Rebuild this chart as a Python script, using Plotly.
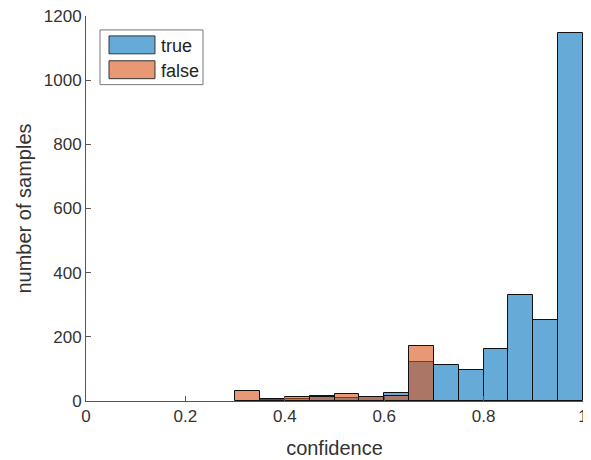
import plotly.graph_objects as go

bin_centers = [0.325, 0.375, 0.425, 0.475, 0.525, 0.575, 0.625, 0.675,
               0.725, 0.775, 0.825, 0.875, 0.925, 0.975]
true_counts = [0, 4, 6, 15, 8, 14, 26, 121, 112, 96, 163, 331, 251, 1147]
false_counts = [31, 5, 13, 12, 23, 11, 16, 170, 0, 0, 0, 0, 0, 0]
bin_width = 0.05
x_ticks = [0, 0.2, 0.4, 0.6, 0.8, 1]
x_tick_labels = ["0", "0.2", "0.4", "0.6", "0.8", "1"]
y_ticks = [0, 200, 400, 600, 800, 1000, 1200]

BLUE = "rgba(0,114,189,0.6)"
ORANGE = "rgba(217,83,25,0.6)"
FONT = "Liberation Sans, Arial, sans-serif"
TXT = "#333333"

def nz(xs, ys):
    px, py = [], []
    for a, b in zip(xs, ys):
        if b > 0:
            px.append(a)
            py.append(b)
    return px, py

fig = go.Figure()
tx, ty = nz(bin_centers, true_counts)
fx, fy = nz(bin_centers, false_counts)
fig.add_trace(go.Bar(x=tx, y=ty, width=bin_width, name="true",
                     marker=dict(color=BLUE, line=dict(color="#111111", width=1))))
fig.add_trace(go.Bar(x=fx, y=fy, width=bin_width, name="false",
                     marker=dict(color=ORANGE, line=dict(color="#111111", width=1))))

fig.update_layout(
    width=583, height=452,
    margin=dict(l=78, r=8, t=8, b=59),
    barmode="overlay", bargap=0,
    showlegend=False,
    plot_bgcolor="white", paper_bgcolor="white",
    font=dict(family=FONT, size=17, color=TXT),
)
fig.update_xaxes(range=[0, 1], tickvals=x_ticks, ticktext=x_tick_labels,
                 ticks="inside", ticklen=5, tickcolor="#555555",
                 showline=True, linecolor="#555555", linewidth=1,
                 showgrid=False, zeroline=False, automargin=False,
                 ticklabeloverflow="allow",
                 title=dict(text="confidence", font=dict(size=20, color=TXT), standoff=15),
                 tickfont=dict(size=17, color=TXT))
fig.update_yaxes(range=[0, 1200], tickvals=y_ticks,
                 ticks="inside", ticklen=5, tickcolor="#555555",
                 showline=True, linecolor="#555555", linewidth=1,
                 showgrid=False, zeroline=False, automargin=False,
                 ticklabeloverflow="allow",
                 title=dict(text="number of samples", font=dict(size=20, color=TXT), standoff=6),
                 tickfont=dict(size=17, color=TXT))

# legend drawn as shapes + text annotations
shapes = [
    dict(type="rect", xref="paper", yref="paper", x0=0.0282, x1=0.2354, y0=0.8217, y1=0.9638,
         line=dict(color="#777777", width=1), fillcolor="white"),
    dict(type="rect", xref="paper", yref="paper", x0=0.0463, x1=0.1388, y0=0.9018, y1=0.9483,
         line=dict(color="#333333", width=1), fillcolor=BLUE),
    dict(type="rect", xref="paper", yref="paper", x0=0.0463, x1=0.1388, y0=0.8372, y1=0.8837,
         line=dict(color="#333333", width=1), fillcolor=ORANGE),
]
fig.update_layout(shapes=shapes)
fig.add_annotation(text="true", xref="paper", yref="paper", x=0.1469, y=0.9225,
                   xanchor="left", yanchor="middle", showarrow=False,
                   font=dict(size=18, color="#222222", family=FONT))
fig.add_annotation(text="false", xref="paper", yref="paper", x=0.1469, y=0.8579,
                   xanchor="left", yanchor="middle", showarrow=False,
                   font=dict(size=18, color="#222222", family=FONT))

fig.write_html("out.html")
